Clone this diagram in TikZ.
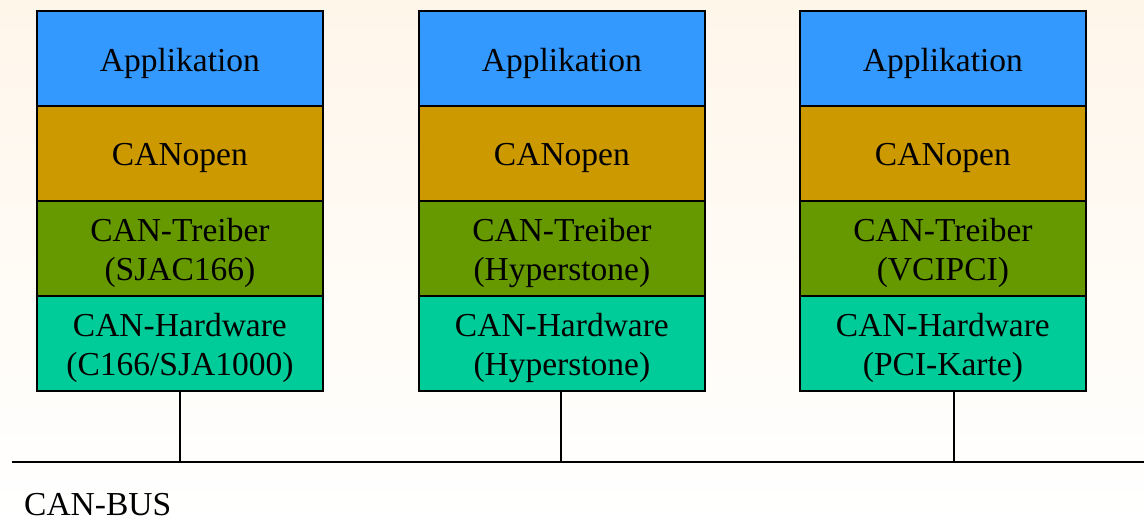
\documentclass[tikz,border=0pt]{standalone}
\usepackage{fontspec}
\setmainfont{Liberation Serif}
\definecolor{appblue}{RGB}{51,153,255}
\definecolor{cangold}{RGB}{204,153,0}
\definecolor{drvgreen}{RGB}{102,153,0}
\definecolor{hwteal}{RGB}{0,204,153}
\definecolor{bgtop}{RGB}{255,246,234}
\begin{document}
\begin{tikzpicture}[x=1pt,y=-1pt,
  layer/.style={draw=black,line width=1.8pt,minimum width=286pt,minimum height=95pt,
    inner sep=0pt,anchor=north west},
  ltext/.style={inner sep=0pt,align=center,font=\fontsize{33.5}{39}\selectfont,yshift=-5pt},
  conn/.style={line width=1.8pt}]
\useasboundingbox (0,0) rectangle (1144,520);
\shade[top color=bgtop,bottom color=white] (0,0) rectangle (1144,520);
\foreach \i/\x/\drv/\hw in {1/36/{(SJAC166)}/{(C166/SJA1000)},2/418/{(Hyperstone)}/{(Hyperstone)},3/799/{(VCIPCI)}/{(PCI-Karte)}}{
  \node[layer,fill=appblue] (app\i) at (\x,10) {};
  \node[layer,fill=cangold] (co\i) at (\x,105) {};
  \node[layer,fill=drvgreen] (drv\i) at (\x,200) {};
  \node[layer,fill=hwteal] (hw\i) at (\x,295) {};
  \node[ltext] (appt\i) at (app\i.center) {Applikation};
  \node[ltext] (cot\i) at (co\i.center) {CANopen};
  \node[ltext] (drvt\i) at (drv\i.center) {CAN-Treiber\\\drv};
  \node[ltext] (hwt\i) at (hw\i.center) {CAN-Hardware\\\hw};
}
\coordinate (busL) at (12,462);
\coordinate (busR) at (1144,462);
\coordinate (t1) at (180,462);
\coordinate (t2) at (561,462);
\coordinate (t3) at (954,462);
\draw[conn] (busL) -- (busR);
\draw[conn] (hw1.south -| t1) -- (t1);
\draw[conn] (hw2.south -| t2) -- (t2);
\draw[conn] (hw3.south -| t3) -- (t3);
\node[anchor=base west,font=\fontsize{33.5}{39}\selectfont,inner sep=0pt] (bus) at (24,515) {CAN-BUS};
\end{tikzpicture}
\end{document}
